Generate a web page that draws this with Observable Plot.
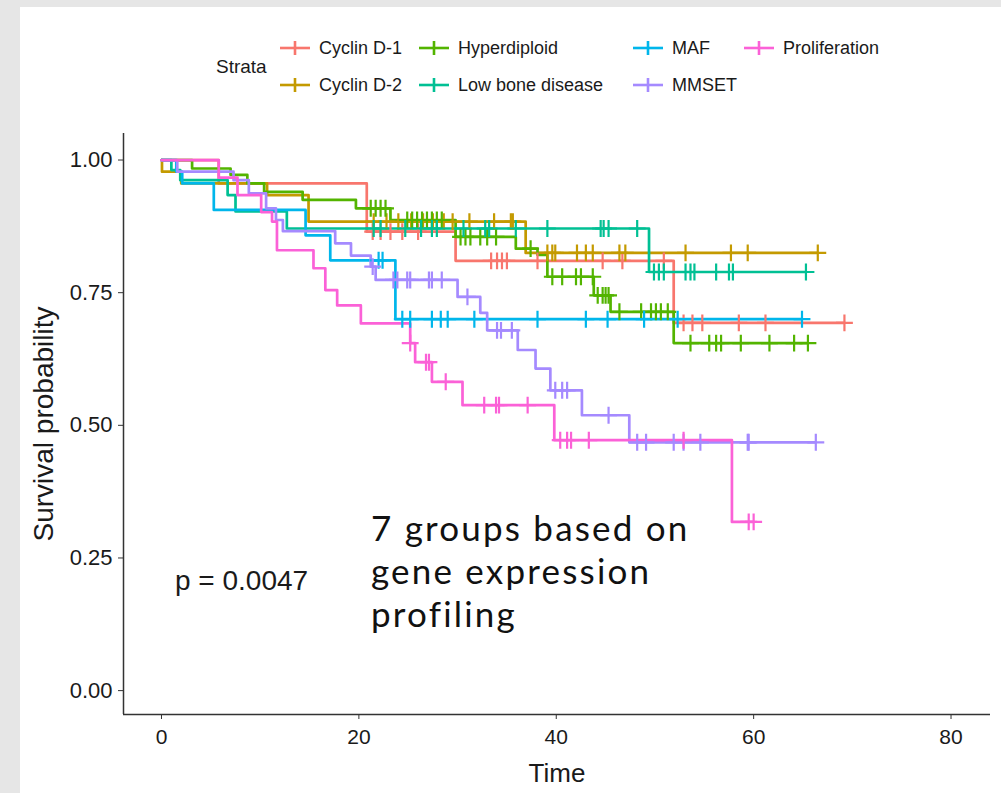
<!DOCTYPE html>
<html><head><meta charset="utf-8">
<script src="https://cdn.jsdelivr.net/npm/d3@7"></script>
<script src="https://cdn.jsdelivr.net/npm/@observablehq/plot@0.6"></script>
<style>
html,body{margin:0;padding:0;background:#fff;}
#page{position:relative;width:1001px;height:793px;background:#e6e6e6;overflow:hidden;font-family:"Liberation Sans",Arial,sans-serif;color:#1a1a1a;}
#panel{position:absolute;left:20px;top:7px;right:0;bottom:0;background:#fff;}
#chart{position:absolute;left:0;top:110px;}
#legend{position:absolute;left:0;top:0;width:1001px;height:110px;}
.lg-title{position:absolute;font-size:19px;transform:translateY(-50%);white-space:nowrap;}
.lg-key{position:absolute;transform:translateY(-50%);}
.lg-label{position:absolute;font-size:18px;transform:translateY(-50%);white-space:nowrap;}
#pval{position:absolute;left:175px;top:565px;font-size:28px;white-space:nowrap;}
#note{position:absolute;left:371px;top:506px;font-family:Lato,"Open Sans",sans-serif;font-weight:400;font-size:35px;line-height:43px;letter-spacing:2.2px;color:#111;white-space:nowrap;}
</style></head>
<body>
<div id="page">
  <div id="panel"></div>
  <div id="legend"></div>
  <div id="chart"></div>
  <div id="pval">p = 0.0047</div>
  <div id="note">7 groups based on<br>gene expression<br>profiling</div>
</div>
<script>
// ---- Data ----
const groups = ["Cyclin D-1", "Cyclin D-2", "Hyperdiploid", "Low bone disease", "MAF", "MMSET", "Proliferation"];
const colors = ["#F8766D", "#C49A00", "#53B400", "#00C094", "#00B6EB", "#A58AFF", "#FB61D7"];

const cyclinD1Time   = [0, 5.8, 20.8, 29.8, 51.9, 69.2];
const cyclinD1Surv   = [1.0, 0.956, 0.865, 0.810, 0.693, 0.693];
const cyclinD1Censor = [21.4, 22.2, 23.2, 24.4, 26.0, 33.4, 34.0, 34.5, 35.0, 38.1, 44.7, 46.7, 50.9, 52.9, 53.8, 54.8, 58.5, 61.2, 69.2];

const cyclinD2Time   = [0, 0.05, 2.0, 10.7, 14.9, 36.9, 66.5];
const cyclinD2Surv   = [1.0, 0.978, 0.956, 0.934, 0.884, 0.825, 0.825];
const cyclinD2Censor = [21.5, 22.8, 24.0, 25.3, 26.5, 27.5, 28.6, 29.5, 31.2, 33.7, 35.4, 35.6, 39.1, 39.6, 39.9, 42.1, 43.0, 43.7, 46.4, 47.0, 53.1, 57.7, 59.4, 66.5];

const hyperTime   = [0, 3.1, 7.0, 8.7, 10.4, 14.3, 19.7, 23.2, 29.8, 35.9, 38.1, 39.1, 43.8, 45.5, 51.9, 65.5];
const hyperSurv   = [1.0, 0.984, 0.972, 0.956, 0.940, 0.925, 0.909, 0.887, 0.855, 0.833, 0.821, 0.780, 0.745, 0.714, 0.655, 0.655];
const hyperCensor = [21.2, 21.7, 22.2, 22.7, 24.9, 25.4, 25.9, 26.4, 26.9, 27.4, 27.9, 28.4, 30.3, 30.8, 31.3, 32.3, 33.0, 33.9, 37.4, 39.6, 40.6, 42.0, 42.5, 43.7, 44.2, 44.7, 45.0, 45.3, 46.4, 48.6, 49.6, 50.1, 50.6, 51.3, 53.6, 55.5, 56.2, 56.7, 58.7, 61.6, 64.1, 65.5];

const lowBoneTime   = [0, 1.0, 1.9, 6.7, 7.5, 12.7, 49.4, 65.3];
const lowBoneSurv   = [1.0, 0.981, 0.962, 0.934, 0.903, 0.871, 0.789, 0.789];
const lowBoneCensor = [21.5, 22.2, 24.7, 26.3, 27.4, 27.9, 30.6, 32.8, 33.2, 35.9, 39.1, 44.5, 44.8, 45.3, 48.2, 49.9, 50.4, 50.9, 53.1, 53.6, 54.0, 56.2, 57.5, 57.9, 65.3];

const mafTime   = [0, 1.5, 2.1, 5.3, 14.6, 17.1, 23.7, 64.9];
const mafSurv   = [1.0, 0.978, 0.956, 0.906, 0.858, 0.811, 0.700, 0.700];
const mafCensor = [22.0, 22.4, 24.4, 25.2, 27.4, 28.3, 29.0, 31.7, 38.1, 43.0, 45.2, 48.9, 52.3, 64.9];

const mmsetTime   = [0, 1.6, 7.3, 8.85, 10.6, 11.6, 12.3, 17.6, 19.2, 21.2, 21.7, 30.0, 32.3, 33.0, 36.1, 37.9, 39.4, 42.6, 47.4, 66.3];
const mmsetSurv   = [1.0, 0.978, 0.962, 0.937, 0.909, 0.887, 0.866, 0.843, 0.820, 0.799, 0.774, 0.742, 0.712, 0.679, 0.642, 0.607, 0.566, 0.519, 0.468, 0.468];
const mmsetCensor = [21.4, 23.5, 23.9, 24.9, 25.2, 27.1, 27.4, 28.4, 31.0, 34.0, 34.4, 35.5, 39.9, 40.6, 41.1, 45.3, 48.2, 49.1, 51.9, 52.9, 54.6, 59.4, 59.5, 66.3];

const prolifTime   = [0, 5.8, 7.7, 10.1, 11.2, 11.7, 15.4, 16.6, 17.8, 20.2, 25.2, 25.7, 27.4, 30.5, 39.8, 57.8, 60.0];
const prolifSurv   = [1.0, 0.967, 0.934, 0.902, 0.884, 0.830, 0.796, 0.755, 0.726, 0.692, 0.655, 0.619, 0.582, 0.538, 0.472, 0.318, 0.318];
const prolifCensor = [25.2, 26.8, 27.1, 28.8, 32.7, 33.9, 34.2, 37.1, 40.4, 41.1, 41.5, 43.3, 52.9, 59.5, 60.0];

const xTicks = [0, 20, 40, 60, 80];
const yTicks = [0, 0.25, 0.5, 0.75, 1];
const pValueText = "p = 0.0047";

// ---- Build tables ----
const series = [
  [cyclinD1Time, cyclinD1Surv, cyclinD1Censor],
  [cyclinD2Time, cyclinD2Surv, cyclinD2Censor],
  [hyperTime, hyperSurv, hyperCensor],
  [lowBoneTime, lowBoneSurv, lowBoneCensor],
  [mafTime, mafSurv, mafCensor],
  [mmsetTime, mmsetSurv, mmsetCensor],
  [prolifTime, prolifSurv, prolifCensor]
];
const steps = [], censors = [];
series.forEach(([T, S, C], gi) => {
  const g = groups[gi];
  T.forEach((t, i) => steps.push({group: g, time: t, surv: S[i]}));
  C.forEach(t => {
    let s = S[0];
    for (let i = 0; i < T.length; i++) if (T[i] <= t) s = S[i];
    censors.push({group: g, time: t, surv: s});
  });
});

const xDomain = [-3.85, 84];
const yDomain = [-0.045, 1.05];

const chart = Plot.plot({
  width: 1001,
  height: 683,
  marginTop: 23,
  marginBottom: 79,
  marginLeft: 123,
  marginRight: 11,
  style: {background: "transparent", fontFamily: "'Liberation Sans', Arial, sans-serif", color: "#1a1a1a"},
  x: {domain: xDomain},
  y: {domain: yDomain},
  color: {domain: groups, range: colors},
  marks: [
    Plot.axisX({ticks: xTicks, tickSize: 5, tickPadding: 10, fontSize: 21, label: "Time", labelAnchor: "center", labelArrow: "none", labelOffset: 67, stroke: "#333"}),
    Plot.axisY({ticks: yTicks, tickFormat: d3.format(".2f"), tickSize: 5, tickPadding: 6, fontSize: 22, label: "Survival probability", labelAnchor: "center", labelArrow: "none", labelOffset: 90, stroke: "#333"}),
    Plot.ruleX([xDomain[0]], {stroke: "#333", strokeWidth: 1.5}),
    Plot.ruleY([yDomain[0]], {stroke: "#333", strokeWidth: 1.5}),
    Plot.line(steps, {x: "time", y: "surv", z: "group", stroke: "group", curve: "step-after", strokeWidth: 2.7}),
    Plot.dot(censors, {x: "time", y: "surv", stroke: "group", symbol: "plus", r: 5.5, strokeWidth: 2.2})
  ]
});
// enlarge axis titles
chart.querySelectorAll("text").forEach(t => {
  if (t.textContent === "Time") t.setAttribute("font-size", "26");
  if (t.textContent === "Survival probability") t.setAttribute("font-size", "28");
});
document.getElementById("chart").appendChild(chart);
document.getElementById("pval").textContent = pValueText;

// ---- Legend ----
const legend = document.getElementById("legend");
const colKeyX = [279, 418, 632, 743];
const rowY = [48, 85];
const title = document.createElement("div");
title.className = "lg-title"; title.textContent = "Strata";
title.style.left = "216px"; title.style.top = "67px";
legend.appendChild(title);
groups.forEach((g, i) => {
  const col = Math.floor(i / 2), row = i % 2;
  const key = document.createElementNS("http://www.w3.org/2000/svg", "svg");
  key.setAttribute("width", 32); key.setAttribute("height", 20);
  key.setAttribute("class", "lg-key");
  key.style.left = colKeyX[col] + "px"; key.style.top = rowY[row] + "px";
  key.innerHTML = `<line x1="1" x2="31" y1="10" y2="10" stroke="${colors[i]}" stroke-width="2.6"/>` +
                  `<line x1="16" x2="16" y1="3" y2="17" stroke="${colors[i]}" stroke-width="2.6"/>`;
  legend.appendChild(key);
  const lab = document.createElement("div");
  lab.className = "lg-label"; lab.textContent = g;
  lab.style.left = (colKeyX[col] + 40) + "px"; lab.style.top = rowY[row] + "px";
  legend.appendChild(lab);
});
</script>
</body></html>
